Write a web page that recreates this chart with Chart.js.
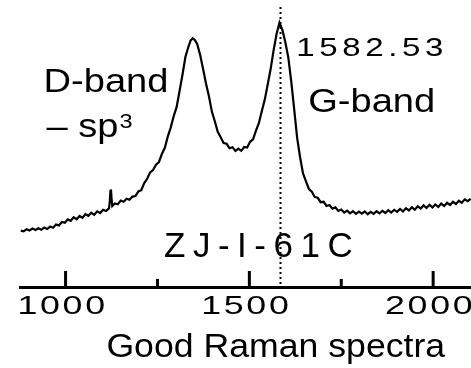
<!DOCTYPE html>
<html>
<head>
<meta charset="utf-8">
<title>Good Raman spectra</title>
<script src="https://cdn.jsdelivr.net/npm/chart.js@4.4.0/dist/chart.umd.min.js"></script>
<style>
  html, body { margin: 0; padding: 0; background: #fff; overflow: hidden; }
  canvas { display: block; }
</style>
</head>
<body>
<canvas id="ramanChart" width="471" height="368"></canvas>
<script>
// Raman shift (cm-1) and intensity (a.u.)
const wavenumbers = [
  878, 886, 894, 902, 910, 918, 926, 934, 942, 950, 958, 966, 974, 982, 990, 998,
  1006, 1014, 1022, 1030, 1038, 1046, 1054, 1062, 1070, 1078, 1086, 1094, 1102, 1110, 1118,
  1120, 1122, 1123.5, 1125, 1127,
  1134, 1142, 1150, 1158, 1166, 1174, 1182, 1190, 1198, 1206, 1214, 1222, 1230, 1238, 1246, 1254,
  1262, 1270, 1278, 1286, 1294, 1302, 1310, 1318, 1326, 1334, 1340, 1346, 1352, 1358, 1366, 1374, 1382,
  1390, 1398, 1406, 1414, 1422, 1430, 1438, 1446, 1454, 1462, 1470, 1478, 1486, 1494, 1502, 1510,
  1518, 1526, 1534, 1542, 1550, 1558, 1566, 1574, 1582, 1590, 1598, 1606, 1614, 1622, 1630, 1638,
  1646, 1654, 1662, 1670, 1678, 1686, 1694, 1702, 1710, 1718, 1726, 1734, 1742, 1750, 1758, 1766,
  1774, 1782, 1790, 1798, 1806, 1814, 1822, 1830, 1838, 1846, 1854, 1862, 1870, 1878, 1886, 1894,
  1902, 1910, 1918, 1926, 1934, 1942, 1950, 1958, 1966, 1974, 1982, 1990, 1998, 2006, 2014, 2022,
  2030, 2038, 2046, 2054, 2062, 2070, 2078, 2086, 2094, 2102
];
const intensity = [
  282, 278, 289, 283, 292, 285, 294, 286, 297, 290, 302, 296, 312, 308, 325, 321,
  338, 331, 349, 339, 355, 346, 364, 356, 371, 361, 378, 370, 386, 380, 393,
  420, 480, 488, 445, 405,
  418, 414, 432, 426, 441, 436, 452, 455, 478, 484, 520, 541, 573, 585, 612, 625,
  665, 696, 752, 797, 853, 899, 979, 1061, 1150, 1200, 1232, 1244, 1234, 1215, 1161, 1091, 1018,
  954, 877, 829, 776, 749, 720, 716, 694, 699, 680, 692, 681, 700, 697, 726, 738,
  782, 821, 880, 937, 1014, 1091, 1184, 1265, 1322, 1284, 1222, 1147, 1027, 888, 746, 649,
  568, 528, 490, 476, 450, 446, 424, 426, 405, 410, 392, 398, 380, 387, 372, 382,
  368, 379, 366, 377, 367, 378, 364, 376, 366, 379, 368, 381, 370, 384, 372, 386,
  376, 390, 378, 394, 383, 399, 387, 404, 392, 408, 395, 411, 398, 413, 400, 417,
  405, 421, 410, 426, 415, 431, 421, 438, 429, 441
];
const tickValues = [1000, 1250, 1500, 1750, 2000];
const tickLabels = ['1000', '', '1500', '', '2000'];
const peakPosition = 1582.53;
const peakLabel = '1582.53';
const sampleName = 'ZJ-I-61C';
const xTitle = 'Good Raman spectra';

const FONT = '"Liberation Sans", Arial, sans-serif';

function drawText(ctx, str, x, y, size, spacing, sx, align) {
  ctx.save();
  ctx.translate(x, y);
  ctx.scale(sx, 1);
  ctx.font = size + 'px ' + FONT;
  ctx.letterSpacing = spacing + 'px';
  ctx.textAlign = align || 'left';
  ctx.textBaseline = 'alphabetic';
  ctx.fillStyle = '#000';
  ctx.fillText(str, 0, 0);
  const w = ctx.measureText(str).width * sx;
  ctx.restore();
  return w;
}

// inward tick marks + wide tick labels, peak marker and the text labels
const markPlugin = {
  id: 'marks',
  afterDraw(chart) {
    const ctx = chart.ctx;
    const xs = chart.scales.x, ys = chart.scales.y;
    const area = chart.chartArea;
    ctx.save();
    ctx.strokeStyle = '#000';
    ctx.lineWidth = 3;
    xs.ticks.forEach((t, i) => {
      const px = xs.getPixelForValue(t.value);
      const len = tickLabels[i] ? 16 : 8;
      ctx.beginPath();
      ctx.moveTo(px, area.bottom);
      ctx.lineTo(px, area.bottom - len);
      ctx.stroke();
      if (tickLabels[i]) {
        drawText(ctx, tickLabels[i], px - 3, area.bottom + 27, 26.5, 2, 1.35, 'center');
      }
    });
    // dotted line at the G peak
    const gx = Math.round(xs.getPixelForValue(peakPosition)) + 0.5;
    ctx.lineWidth = 2;
    ctx.setLineDash([2, 3]);
    ctx.beginPath();
    ctx.moveTo(gx, area.top);
    ctx.lineTo(gx, area.bottom);
    ctx.stroke();
    ctx.restore();

    drawText(ctx, peakLabel, xs.getPixelForValue(1627.6), ys.getPixelForValue(1155), 25, 3.5, 1.32);
    drawText(ctx, 'D-band', xs.getPixelForValue(940), ys.getPixelForValue(976), 34, 0, 1.12);
    const dx = xs.getPixelForValue(948), dy = ys.getPixelForValue(751);
    const w = drawText(ctx, '\u2013 sp', dx, dy, 34, 0, 1.12);
    drawText(ctx, '3', dx + w + 1, dy - 9, 21, 0, 1.12);
    drawText(ctx, 'G-band', xs.getPixelForValue(1660), ys.getPixelForValue(876), 34, 0, 1.12);
    drawText(ctx, sampleName, xs.getPixelForValue(1268), ys.getPixelForValue(148), 35, 7.5, 1);
    drawText(ctx, xTitle, xs.getPixelForValue(1111), xs.bottom - 10.7, 33, 0, 1.08);
  }
};

new Chart(document.getElementById('ramanChart'), {
  type: 'line',
  data: {
    datasets: [{
      data: wavenumbers.map((x, i) => ({ x: x, y: intensity[i] })),
      borderColor: '#000',
      borderWidth: 2.2,
      pointRadius: 0,
      tension: 0,
      fill: false
    }]
  },
  options: {
    responsive: false,
    animation: false,
    devicePixelRatio: 1,
    layout: { padding: { left: 20, right: 0, top: 7, bottom: 0 } },
    plugins: { legend: { display: false }, tooltip: { enabled: false } },
    scales: {
      x: {
        type: 'linear',
        position: 'bottom',
        min: 876,
        max: 2103,
        afterBuildTicks: (scale) => { scale.ticks = tickValues.map(v => ({ value: v })); },
        afterFit: (scale) => { scale.height = 81; },
        grid: { display: true, drawOnChartArea: false, drawTicks: false },
        border: { display: true, color: '#000', width: 3 },
        ticks: { display: false }
      },
      y: { display: false, min: 0, max: 1400 }
    }
  },
  plugins: [markPlugin]
});
</script>
</body>
</html>
